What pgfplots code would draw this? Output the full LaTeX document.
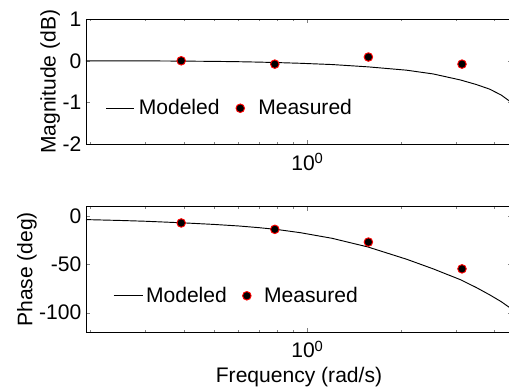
\documentclass[border=0pt]{standalone}
\usepackage{fontspec}
\setmainfont{Liberation Sans}
\usepackage{pgfplots}
\usepackage{pgfplotstable}
\pgfplotsset{compat=1.18}

\pgfplotstableread{
w mag phase
0.194 0.000 -3.4
0.25 0.000 -4.3
0.30 -0.002 -5.1
0.40 -0.008 -6.8
0.50 -0.014 -8.4
0.60 -0.022 -10.0
0.70 -0.032 -11.8
0.80 -0.043 -13.7
0.95 -0.060 -17.0
1.20 -0.090 -22.8
1.565 -0.145 -31.8
2.084 -0.225 -44.5
2.538 -0.315 -54.5
3.109 -0.46 -65.8
3.50 -0.57 -74.0
3.86 -0.68 -81.5
4.20 -0.82 -88.5
4.44 -0.95 -94.0
4.80 -1.15 -102.0
}\modeltab

\pgfplotstableread{
w mag phase
0.3927 0.00 -6.9
0.7854 -0.08 -13.5
1.5708 0.09 -26.7
3.1416 -0.08 -54.5
}\meastab

\begin{document}
\begin{tikzpicture}
\begin{axis}[xmode=log, xmin=0.194, xmax=4.55,
    scale only axis, width=319.5pt, height=94pt,
    font=\fontsize{15.8pt}{19pt}\selectfont,
    tick align=inside,
    major tick length=3pt, minor tick length=1.8pt,
    xtick={1}, xticklabels={10\textsuperscript{0}},
    minor xtick={0.2,0.3,0.4,0.5,0.6,0.7,0.8,0.9,2,3,4},
    xticklabel style={yshift=-3pt},
    axis line style={line width=0.7pt},
    at={(64.5pt,-14.25pt)}, anchor=north west,
    ymin=-2, ymax=1, ytick={-2,-1,0,1}, yticklabels={-2,-1,0,1},
    ylabel={Magnitude (dB)}, ylabel shift=-5pt,
    legend columns=2,
    legend style={draw=none, fill=none, anchor=west,
      inner sep=0pt, font=\fontsize{15.8pt}{19pt}\selectfont,
      at={(0.046,0.288)},
      /tikz/every odd column/.append style={column sep=1pt},
      /tikz/every even column/.append style={column sep=3pt}}]
\addplot[black, line width=0.7pt, no marks,
  legend image code/.code={\draw[black, line width=0.7pt] (0pt,0pt) -- (21pt,0pt);}]
  table[x=w,y=mag] {\modeltab};
\addlegendentry{Modeled}
\addplot[only marks, mark=*, mark size=3.2pt,
  mark options={fill=black, draw=red, line width=0.7pt},
  legend image code/.code={\path[draw=none, fill=none] (0pt,0pt) rectangle (21pt,0.1pt);
    \path[draw=none] plot[only marks, mark=*, mark size=3.2pt, mark options={fill=black, draw=red, line width=0.7pt}] coordinates {(10.5pt,0pt)};}]
  table[x=w,y=mag] {\meastab};
\addlegendentry{Measured}
\end{axis}
\begin{axis}[xmode=log, xmin=0.194, xmax=4.55,
    scale only axis, width=319.5pt, height=94pt,
    font=\fontsize{15.8pt}{19pt}\selectfont,
    tick align=inside,
    major tick length=3pt, minor tick length=1.8pt,
    xtick={1}, xticklabels={10\textsuperscript{0}},
    minor xtick={0.2,0.3,0.4,0.5,0.6,0.7,0.8,0.9,2,3,4},
    xticklabel style={yshift=-3pt},
    axis line style={line width=0.7pt},
    at={(64.5pt,-155pt)}, anchor=north west,
    ymin=-120, ymax=10, ytick={-100,-50,0}, yticklabels={-100,-50,0},
    ylabel={Phase (deg)}, ylabel shift=-5pt, xlabel={Frequency (rad/s)},
    legend columns=2,
    legend style={draw=none, fill=none, anchor=west,
      inner sep=0pt, font=\fontsize{15.8pt}{19pt}\selectfont,
      at={(0.063,0.289)},
      /tikz/every odd column/.append style={column sep=0pt},
      /tikz/every even column/.append style={column sep=2pt}}]
\addplot[black, line width=0.7pt, no marks,
  legend image code/.code={\draw[black, line width=0.7pt] (0pt,0pt) -- (22pt,0pt);}]
  table[x=w,y=phase] {\modeltab};
\addlegendentry{Modeled}
\addplot[only marks, mark=*, mark size=3.2pt,
  mark options={fill=black, draw=red, line width=0.7pt},
  legend image code/.code={\path[draw=none, fill=none] (0pt,0pt) rectangle (22pt,0.1pt);
    \path[draw=none] plot[only marks, mark=*, mark size=3.2pt, mark options={fill=black, draw=red, line width=0.7pt}] coordinates {(11pt,0pt)};}]
  table[x=w,y=phase] {\meastab};
\addlegendentry{Measured}
\end{axis}
\pgfresetboundingbox
\path[use as bounding box] (0pt,0pt) rectangle (381.75pt,-292.5pt);
\end{tikzpicture}
\end{document}
